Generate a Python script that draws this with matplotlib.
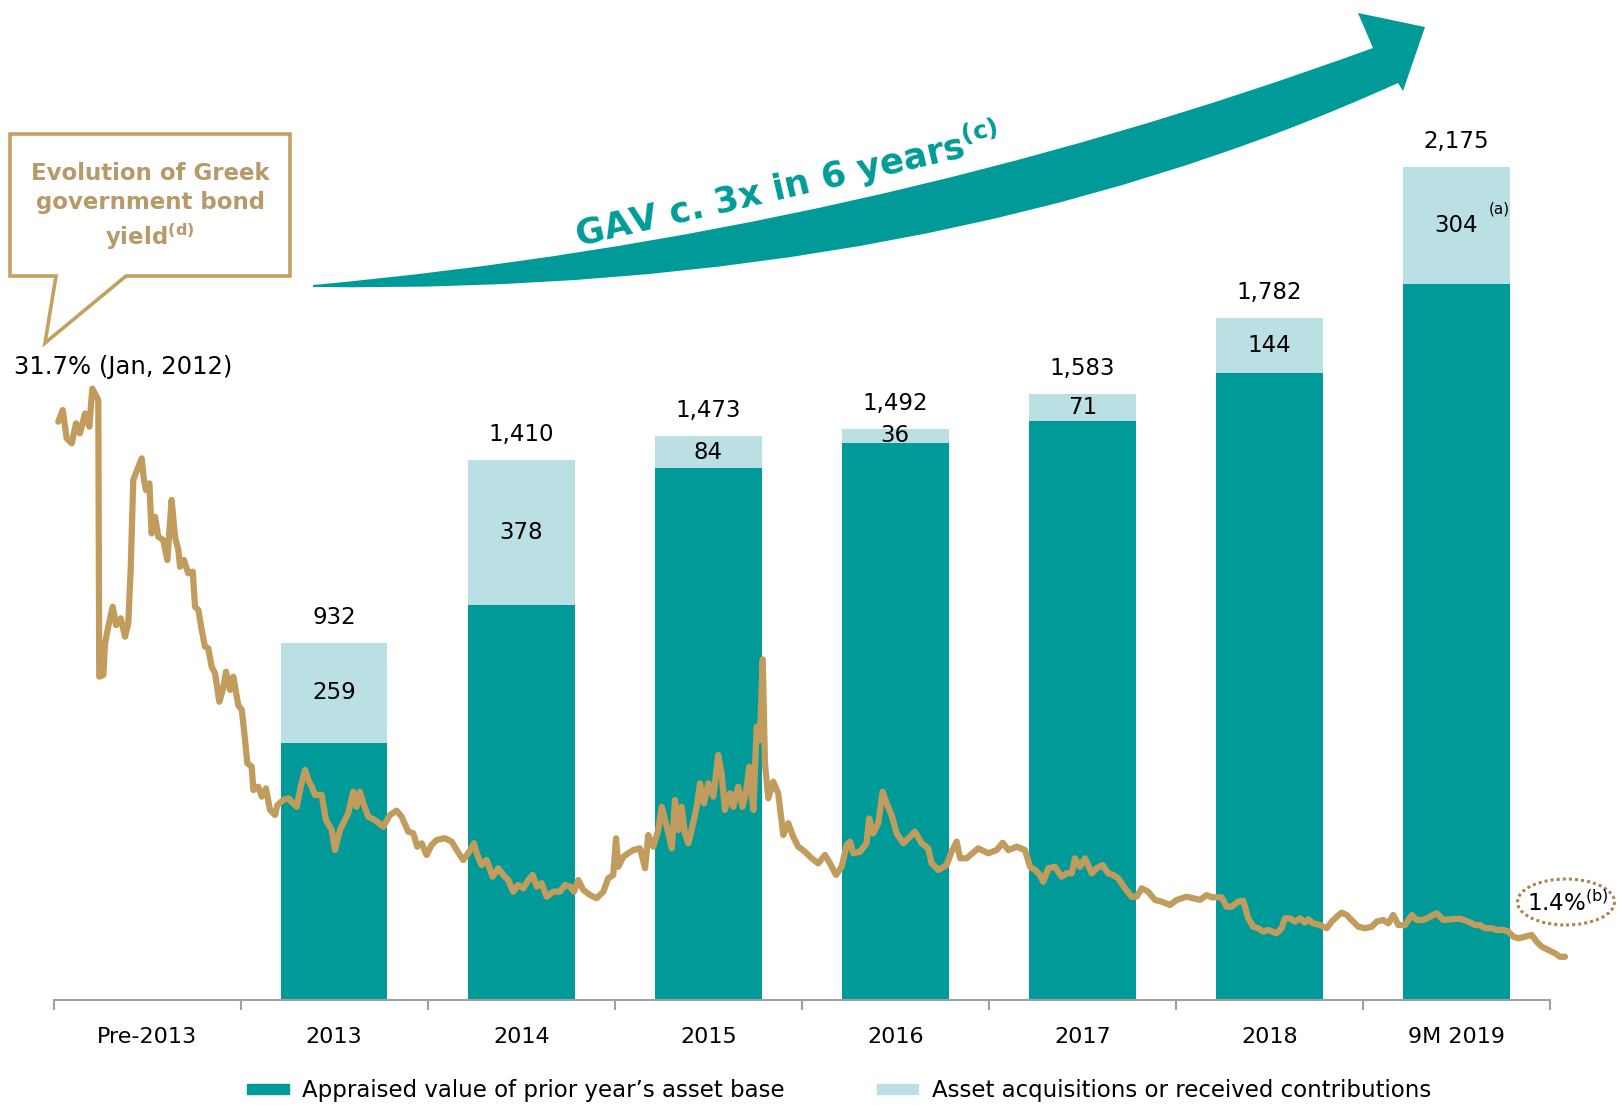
import numpy as np
import matplotlib.pyplot as plt
from matplotlib.patches import Polygon, Ellipse, PathPatch, Patch
from matplotlib.path import Path

plt.rcParams['font.family'] = 'DejaVu Sans'

# --- data -------------------------------------------------------------
categories = ['Pre-2013', '2013', '2014', '2015', '2016', '2017', '2018', '9M 2019']
base_values = [673, 1032, 1389, 1456, 1512, 1638, 1871]   # appraised value of prior year's base
acq_values = [259, 378, 84, 36, 71, 144, 304]             # acquisitions / contributions
totals = [932, 1410, 1473, 1492, 1583, 1782, 2175]

# Greek 10y government bond yield (%)
bond_years = [
    2012.025, 2012.049, 2012.070, 2012.097, 2012.120, 2012.141, 2012.168, 2012.191, 2012.207, 2012.239,
    2012.244, 2012.266, 2012.275, 2012.292, 2012.316, 2012.334, 2012.359, 2012.382, 2012.399, 2012.412,
    2012.426, 2012.447, 2012.471, 2012.483, 2012.494, 2012.512, 2012.524, 2012.542, 2012.560, 2012.586,
    2012.608, 2012.631, 2012.649, 2012.667, 2012.676, 2012.697, 2012.720, 2012.744, 2012.756, 2012.774,
    2012.792, 2012.809, 2012.827, 2012.845, 2012.863, 2012.886, 2012.904, 2012.922, 2012.943, 2012.961,
    2012.987, 2013.006, 2013.018, 2013.036, 2013.059, 2013.068, 2013.094, 2013.113, 2013.135, 2013.157,
    2013.184, 2013.196, 2013.228, 2013.255, 2013.281, 2013.300, 2013.321, 2013.344, 2013.362, 2013.380,
    2013.397, 2013.433, 2013.456, 2013.487,
    2013.504, 2013.531, 2013.557, 2013.575, 2013.602, 2013.620, 2013.638, 2013.656, 2013.682, 2013.718,
    2013.763, 2013.798, 2013.834, 2013.861, 2013.896, 2013.923, 2013.944, 2013.968, 2013.994, 2014.021,
    2014.048, 2014.092, 2014.128, 2014.155, 2014.190, 2014.222, 2014.247, 2014.262, 2014.288, 2014.315,
    2014.347, 2014.377, 2014.404, 2014.431, 2014.457, 2014.484, 2014.511, 2014.538, 2014.561, 2014.583,
    2014.609, 2014.636, 2014.671, 2014.707, 2014.734, 2014.761, 2014.782, 2014.805, 2014.832, 2014.868,
    2014.903, 2014.939, 2014.965, 2014.992, 2015.007, 2015.019, 2015.046, 2015.072,
    2015.099, 2015.135, 2015.162, 2015.179, 2015.206, 2015.233, 2015.251, 2015.278, 2015.305, 2015.322,
    2015.340, 2015.358, 2015.375, 2015.393, 2015.411, 2015.438, 2015.456, 2015.477, 2015.500, 2015.527,
    2015.553, 2015.571, 2015.589, 2015.616, 2015.634, 2015.660, 2015.683, 2015.701, 2015.719, 2015.741,
    2015.759, 2015.776, 2015.791, 2015.803, 2015.821, 2015.847, 2015.874, 2015.901, 2015.928, 2015.954,
    2015.981, 2016.017, 2016.053, 2016.088, 2016.124, 2016.151, 2016.183, 2016.213, 2016.240, 2016.258,
    2016.275, 2016.311, 2016.346, 2016.360, 2016.382, 2016.409, 2016.432, 2016.454, 2016.480, 2016.507,
    2016.543, 2016.578, 2016.605,
    2016.641, 2016.676, 2016.694, 2016.730, 2016.774, 2016.801, 2016.828, 2016.846, 2016.881, 2016.943,
    2016.997, 2017.042, 2017.074, 2017.104, 2017.149, 2017.193, 2017.220, 2017.247, 2017.273, 2017.291,
    2017.318, 2017.353, 2017.389, 2017.416, 2017.443, 2017.460, 2017.487, 2017.514, 2017.550, 2017.576,
    2017.608, 2017.638, 2017.665, 2017.692, 2017.728, 2017.763, 2017.790, 2017.817, 2017.852, 2017.888,
    2017.924, 2017.968, 2018.004, 2018.057, 2018.093, 2018.129, 2018.164, 2018.191, 2018.245, 2018.271,
    2018.298, 2018.333,
    2018.360, 2018.387, 2018.413, 2018.440, 2018.467, 2018.494, 2018.538, 2018.565, 2018.583, 2018.610,
    2018.636, 2018.663, 2018.690, 2018.708, 2018.734, 2018.770, 2018.806, 2018.833, 2018.860, 2018.886,
    2018.913, 2018.939, 2018.975, 2019.011, 2019.047, 2019.073, 2019.109, 2019.136, 2019.162, 2019.189,
    2019.225, 2019.261, 2019.287, 2019.323, 2019.358, 2019.394, 2019.430, 2019.466, 2019.519, 2019.564,
    2019.600, 2019.626, 2019.653, 2019.689, 2019.715, 2019.751, 2019.777, 2019.804, 2019.831, 2019.866,
    2019.902, 2019.929, 2019.955, 2019.991, 2020.027, 2020.053, 2020.080,
]
bond_yield = [
    29.94, 30.56, 29.05, 28.78, 29.85, 29.32, 30.38, 29.67, 31.70, 31.09,
    16.34, 16.43, 18.12, 19.00, 20.07, 19.09, 19.45, 18.47, 19.18, 22.03,
    26.83, 27.36, 27.98, 26.83, 26.29, 26.65, 23.98, 24.87, 23.80, 23.63,
    22.56, 25.76, 23.80, 23.09, 22.20, 22.56, 21.85, 21.94, 20.07, 19.89,
    18.83, 17.94, 17.85, 16.87, 16.52, 15.00, 15.63, 16.60, 15.63, 16.34,
    14.83, 14.56, 13.49, 11.72, 11.54, 10.29, 10.47, 9.94, 10.38, 9.23,
    8.96, 9.49, 9.76, 9.85, 9.58, 9.40, 10.47, 11.36, 10.83, 10.47,
    10.03, 10.03, 8.69, 8.16,
    7.09, 8.16, 8.69, 9.05, 10.20, 9.40, 10.20, 9.58, 8.87, 8.69,
    8.34, 8.96, 9.19, 8.87, 8.07, 7.98, 7.27, 7.45, 6.83, 7.36,
    7.63, 7.72, 7.54, 7.09, 6.56, 7.00, 7.45, 6.92, 6.29, 6.56,
    5.67, 6.12, 5.76, 5.49, 4.87, 5.23, 5.05, 5.49, 5.76, 5.14,
    5.32, 4.60, 4.87, 4.87, 5.23, 5.14, 4.87, 5.49, 4.96, 4.69,
    4.52, 4.87, 5.58, 5.76, 7.72, 6.20, 6.74, 6.92,
    7.09, 7.18, 6.12, 7.89, 7.27, 8.16, 9.40, 8.34, 7.18, 9.76,
    8.16, 9.40, 7.98, 7.45, 8.16, 9.40, 10.65, 9.58, 10.65, 9.94,
    12.16, 11.18, 9.23, 10.12, 9.40, 10.47, 9.40, 10.12, 11.54, 9.23,
    13.67, 12.96, 17.26, 11.72, 9.85, 10.74, 10.12, 7.89, 8.52, 7.80,
    7.27, 7.00, 6.65, 6.38, 6.83, 6.38, 5.76, 6.20, 7.36, 7.54,
    6.92, 7.00, 7.45, 8.78, 7.98, 8.52, 10.20, 9.58, 8.96, 7.98,
    7.45, 7.80, 8.07,
    7.45, 7.18, 6.38, 6.03, 6.29, 7.00, 7.54, 6.65, 6.65, 7.18,
    6.92, 7.09, 7.48, 7.09, 7.27, 7.09, 6.20, 6.03, 5.76, 5.40,
    6.12, 6.20, 5.67, 5.85, 5.85, 6.65, 6.20, 6.65, 5.85, 6.12,
    6.29, 5.85, 5.76, 5.58, 5.05, 4.60, 4.60, 5.05, 4.87, 4.43,
    4.34, 4.16, 4.43, 4.60, 4.52, 4.43, 4.69, 4.57, 4.57, 4.07,
    4.07, 4.34,
    4.39, 3.45, 3.00, 2.92, 2.74, 2.83, 2.65, 2.92, 3.45, 3.45,
    3.27, 3.45, 3.22, 3.40, 3.18, 3.09, 2.92, 3.27, 3.54, 3.75,
    3.63, 3.36, 3.00, 2.92, 3.00, 3.27, 3.36, 3.18, 3.63, 3.09,
    3.09, 3.63, 3.36, 3.36, 3.54, 3.72, 3.36, 3.40, 3.43, 3.27,
    3.09, 3.09, 2.92, 2.92, 2.83, 2.83, 2.74, 2.47, 2.38, 2.47,
    2.56, 2.20, 1.94, 1.76, 1.58, 1.40, 1.40,
]

legend_labels = ['Appraised value of prior year\u2019s asset base',
                 'Asset acquisitions or received contributions']

TEAL = '#009B98'
LIGHT = '#BBE0E3'
GOLD = '#C29C5C'
GOLD_TXT = '#B89A6A'

W, H = 1617, 1105


def fxy(x, y):
    # pixel position (from top-left) -> figure fraction
    return (x / W, 1 - y / H)


fig = plt.figure(figsize=(W / 100, H / 100), dpi=100)
ax = fig.add_axes([53.6 / W, 1 - 1000.3 / H, (1550 - 53.6) / W, 1000.3 / H])

xpos = np.arange(1, len(categories))
ax.bar(xpos, base_values, width=0.57, color=TEAL, zorder=2)
ax.bar(xpos, acq_values, width=0.57, bottom=base_values, color=LIGHT, zorder=2)
ax.set_xlim(-0.5, 7.5)
ax.set_ylim(0, 2612)

for xi, b, a, tot in zip(xpos, base_values, acq_values, totals):
    ax.text(xi, b + a / 2, str(a), ha='center', va='center', fontsize=16.5, zorder=3)
    ax.annotate(f'{tot:,}', (xi, tot), xytext=(0, 18.6), textcoords='offset points',
                ha='center', va='center', fontsize=16.5)
ax.annotate('(a)', (xpos[-1], base_values[-1] + acq_values[-1] / 2), xytext=(31, 12),
            textcoords='offset points', ha='center', va='center', fontsize=11)

ax.set_xticks(range(len(categories)))
ax.set_xticklabels(categories, fontsize=16)
ax.set_xticks(np.arange(-0.5, 8, 1), minor=True)
ax.tick_params(axis='x', which='major', length=0, pad=19)
ax.tick_params(axis='x', which='minor', length=7, width=1.5, color='#A0A0A0')
ax.set_yticks([])
for s in ['top', 'right', 'left']:
    ax.spines[s].set_visible(False)
ax.spines['bottom'].set_color('#A0A0A0')
ax.spines['bottom'].set_linewidth(1.5)

# bond yield line on its own scale
ax2 = ax.twinx()
ax2.plot(np.array(bond_years) - 2012.5, bond_yield, color=GOLD, lw=4.5,
         solid_joinstyle='round', solid_capstyle='round', clip_on=False)
ax2.set_ylim(-0.923, 52.43)
ax2.axis('off')

# callout box
callout = [(10, 134), (290, 134), (290, 276), (126, 276), (45, 343), (56, 276), (10, 276)]
fig.add_artist(Polygon([fxy(*p) for p in callout], closed=True, transform=fig.transFigure,
                       facecolor='white', edgecolor='#C5A063', lw=2.6, joinstyle='miter'))
fig.text(*fxy(150, 207), 'Evolution of Greek\ngovernment bond\nyield$^{\\mathbf{(d)}}$',
         ha='center', va='center', fontsize=16.5, fontweight='bold', color=GOLD_TXT,
         linespacing=1.3)
fig.text(*fxy(14, 367), '31.7% (Jan, 2012)', ha='left', va='center', fontsize=17.5)

# growth arrow
verts = [(313, 285), (860, 235), (1373, 48), (1358, 13), (1425, 27), (1403, 91), (1398, 83),
         (930, 295), (313, 287), (313, 285)]
codes = [Path.MOVETO, Path.CURVE3, Path.CURVE3, Path.LINETO, Path.LINETO, Path.LINETO,
         Path.LINETO, Path.CURVE3, Path.CURVE3, Path.CLOSEPOLY]
arrow = Path([fxy(*v) for v in verts], codes)
fig.add_artist(PathPatch(arrow, transform=fig.transFigure, facecolor=TEAL, edgecolor='none'))
fig.text(*fxy(790, 198), 'GAV c. 3x in 6 years$^{\\mathbf{(c)}}$', ha='center', va='baseline',
         rotation=13, rotation_mode='anchor', fontsize=25.5, fontweight='bold', color=TEAL)

# latest yield marker
fig.add_artist(Ellipse(fxy(1566, 902), width=97 / W, height=46 / H, transform=fig.transFigure,
                       fill=False, edgecolor='#A8874E', lw=2.2, linestyle=(0, (1, 1))))
fig.text(*fxy(1568, 903), '1.4%$^{\\mathrm{(b)}}$', ha='center', va='center', fontsize=16.5)

handles = [Patch(color=TEAL), Patch(color=LIGHT)]
fig.legend(handles, legend_labels, loc='center', bbox_to_anchor=(0.519, fxy(0, 1091)[1]),
           ncol=2, frameon=False, fontsize=16.5, handlelength=1.8, handleheight=0.31,
           handletextpad=0.6, columnspacing=4.0)

fig.savefig('out.png', dpi=100)
